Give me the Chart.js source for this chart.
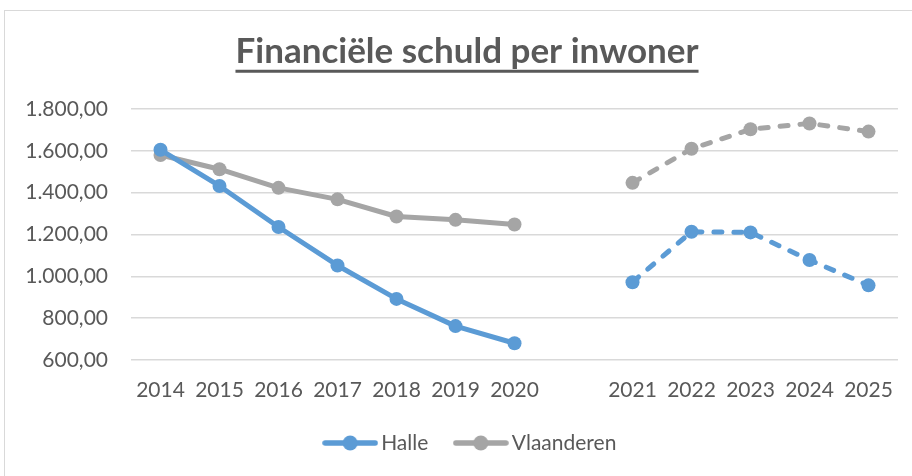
<!DOCTYPE html>
<html>
<head>
<meta charset="utf-8">
<script src="https://cdn.jsdelivr.net/npm/chart.js@4"></script>
<style>
  body { margin: 0; background: #fff; overflow: hidden; }
  #frame { position: absolute; left: 4px; top: 10px; width: 940px; height: 500px; border: 1px solid #d9d9d9; }
  #grafiek { position: absolute; left: 0; top: 0; }
</style>
</head>
<body>
<div id="frame"></div>
<canvas id="grafiek" width="912" height="476"></canvas>
<script>
// Financiële schuld per inwoner - Halle vs Vlaanderen
// lege categorie tussen 2020 en 2021 zoals in het origineel

var jaren = ['2014','2015','2016','2017','2018','2019','2020','','2021','2022','2023','2024','2025'];
var halle = [1605, 1432, 1236, 1052, 892, 762, 680, null, 972, 1213, 1210, 1078, 957];
var vlaanderen = [1580, 1512, 1423, 1368, 1286, 1270, 1248, null, 1447, 1610, 1703, 1731, 1692];
var yTicks = [600, 800, 1000, 1200, 1400, 1600, 1800];

var kleurHalle = '#5b9bd5';
var kleurVl = '#a5a5a5';
var tekstKleur = '#595959';
var fam = 'Lato, "Open Sans", sans-serif';

function formatNl(v) {
  var s = Math.round(v).toString();
  s = s.replace(/\B(?=(\d{3})+(?!\d))/g, '.');
  return s + ',00';
}

function legendIcon(kleur) {
  var c = document.createElement('canvas');
  c.width = 56; c.height = 18;
  var g = c.getContext('2d');
  g.strokeStyle = kleur;
  g.lineWidth = 5.5;
  g.lineCap = 'round';
  g.beginPath(); g.moveTo(3, 9); g.lineTo(53, 9); g.stroke();
  g.fillStyle = kleur;
  g.beginPath(); g.arc(28, 9, 7.5, 0, Math.PI * 2); g.fill();
  return c;
}

// stippellijn voor de prognose (na de lege categorie)
var streep = function(ctx) { return ctx.p0DataIndex > 7 ? [8, 12] : undefined; };

// titel en legende iets naar rechts, zoals in Excel (gecentreerd op het plotgebied)
var verschuif = {
  id: 'verschuif',
  afterLayout: function(chart) {
    if (chart.titleBlock) chart.titleBlock.left = 36;
    if (chart.legend) chart.legend.left = 48;
  }
};

var titelOnderlijn = {
  id: 'titelOnderlijn',
  afterDraw: function(chart) {
    var t = chart.titleBlock;
    if (!t) return;
    var ctx = chart.ctx;
    ctx.save();
    ctx.font = t.options.font.weight + ' ' + t.options.font.size + 'px ' + t.options.font.family;
    var w = ctx.measureText(t.options.text).width;
    var cx = (t.left + t.right) / 2;
    var y = t.top + t.options.padding.top + t.options.font.size * 1.15;
    ctx.strokeStyle = tekstKleur;
    ctx.lineWidth = 3;
    ctx.beginPath(); ctx.moveTo(cx - w / 2, y); ctx.lineTo(cx + w / 2, y); ctx.stroke();
    ctx.restore();
  }
};

new Chart(document.getElementById('grafiek'), {
  type: 'line',
  data: {
    labels: jaren,
    datasets: [
      {
        label: 'Halle',
        data: halle,
        borderColor: kleurHalle,
        backgroundColor: kleurHalle,
        borderWidth: 5,
        borderCapStyle: 'round',
        borderJoinStyle: 'round',
        pointRadius: 7,
        pointBorderWidth: 0,
        pointBackgroundColor: kleurHalle,
        spanGaps: false,
        segment: { borderDash: streep }
      },
      {
        label: 'Vlaanderen',
        data: vlaanderen,
        borderColor: kleurVl,
        backgroundColor: kleurVl,
        borderWidth: 5,
        borderCapStyle: 'round',
        borderJoinStyle: 'round',
        pointRadius: 7,
        pointBorderWidth: 0,
        pointBackgroundColor: kleurVl,
        spanGaps: false,
        segment: { borderDash: streep }
      }
    ]
  },
  options: {
    responsive: false,
    animation: false,
    layout: { padding: { left: 0, right: 14, top: 0, bottom: 12.5 } },
    plugins: {
      title: {
        display: true,
        text: 'Financiële schuld per inwoner',
        color: tekstKleur,
        font: { family: fam, size: 35, weight: 'bold' },
        padding: { top: 31, bottom: 36 }
      },
      legend: {
        position: 'bottom',
        labels: {
          color: tekstKleur,
          font: { family: fam, size: 21 },
          usePointStyle: true,
          pointStyleWidth: 41,
          padding: 32,
          generateLabels: function(chart) {
            return chart.data.datasets.map(function(ds, i) {
              return {
                text: ds.label,
                pointStyle: legendIcon(ds.borderColor),
                fillStyle: ds.borderColor,
                strokeStyle: ds.borderColor,
                lineWidth: 0,
                fontColor: tekstKleur,
                datasetIndex: i
              };
            });
          }
        }
      },
      tooltip: { enabled: false }
    },
    scales: {
      x: {
        offset: true,
        afterFit: function(s) { s.height = 40.5; },
        grid: { display: false, drawTicks: false },
        border: { display: false },
        ticks: { color: tekstKleur, font: { family: fam, size: 21 }, padding: 18, autoSkip: false, maxRotation: 0 }
      },
      y: {
        min: 600,
        max: 1800,
        afterFit: function(s) { s.width = 131; },
        afterBuildTicks: function(s) { s.ticks = yTicks.map(function(v) { return { value: v }; }); },
        grid: { color: '#d9d9d9', lineWidth: 1.5, drawTicks: false },
        border: { display: false },
        ticks: {
          color: tekstKleur,
          font: { family: fam, size: 21 },
          padding: 23,
          callback: function(v) { return formatNl(v); }
        }
      }
    }
  },
  plugins: [verschuif, titelOnderlijn]
});
</script>
</body>
</html>
